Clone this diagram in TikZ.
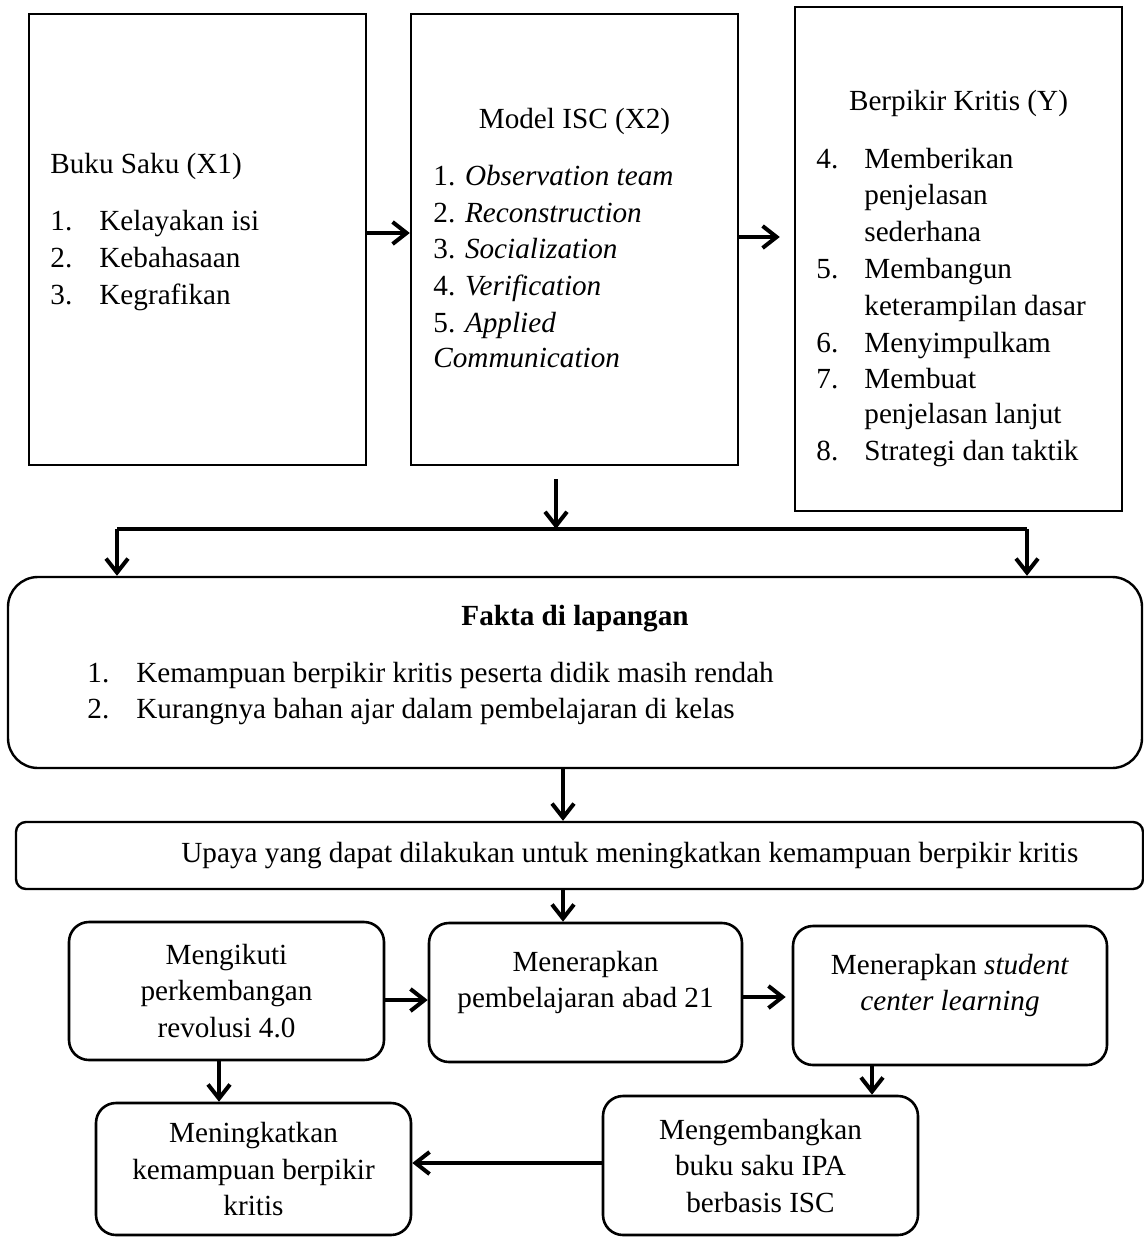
\documentclass[tikz,border=0pt]{standalone}
\usepackage{fontspec}
\setmainfont{Liberation Serif}
\usetikzlibrary{arrows.meta,calc}
\newcommand{\fs}{\fontsize{14.6}{18.25}\selectfont}
\tikzstyle{panel}=[draw,line width=1.2pt,inner sep=0pt]
\tikzstyle{roundbox}=[draw,line width=1.3pt,rounded corners=10pt,align=center,inner sep=0pt,font=\fs]
\tikzstyle{txt}=[anchor=base west,inner sep=0pt,font=\fs]
\tikzstyle{wire}=[draw,line width=2pt]
\tikzstyle{arr}=[draw,line width=2pt,-{Straight Barb[length=7pt,width=11pt]}]

\begin{document}
\begin{tikzpicture}[x=0.5pt,y=-0.5pt]
\useasboundingbox (0,0) rectangle (1144,1237);

    % variable boxes
    \node[panel,minimum width=168.5pt,minimum height=225.5pt] (bukusaku) at (197.5,239.5) {};
    \node[panel,minimum width=163.5pt,minimum height=225.5pt] (modelisc) at (574.5,239.5) {};
    \node[panel,minimum width=163.5pt,minimum height=252pt] (kritis) at (958.5,259) {};

    \node[txt] (bukusakuT) at (50,173) {Buku Saku (X1)};
    \foreach \n/\t/\y in {1/Kelayakan isi/230, 2/Kebahasaan/267, 3/Kegrafikan/304}
        \node[txt] (buku\n) at (50,\y) {\makebox[24.5pt][l]{\n.}\t};

    \node[txt,anchor=base] (modeliscT) at (574.5,128) {Model ISC (X2)};
    \foreach \n/\t/\y in {1/Observation team/185, 2/Reconstruction/222, 3/Socialization/258, 4/Verification/295, 5/Applied/332}
        \node[txt] (isc\n) at (433,\y) {\n. \textit{\t}};
    \node[txt] (isc6) at (433,367) {\textit{Communication}};

    \node[txt,anchor=base] (kritisT) at (958.5,110) {Berpikir Kritis (Y)};
    \foreach \i/\n/\t/\y in {1/4./Memberikan/168, 2//penjelasan/204, 3//sederhana/241, 4/5./Membangun/278, 5//keterampilan dasar/315, 6/6./Menyimpulkam/352, 7/7./Membuat/388, 8//penjelasan lanjut/423, 9/8./Strategi dan taktik/460}
        \node[txt] (kritis\i) at (816,\y) {\makebox[24pt][l]{\n}\t};

    \draw[arr] ([yshift=3.25pt]bukusaku.east) -- ([yshift=3.25pt]modelisc.west);
    \draw[arr,shorten >=7pt] ([yshift=1.25pt]modelisc.east) -- ([yshift=1.25pt]modelisc.east -| kritis.west);

    % facts
    \node[panel,rounded corners=15pt,minimum width=567pt,minimum height=95.5pt] (fakta) at (575,672.5) {};
    \node[txt,anchor=base,font=\fs\bfseries] (faktaT) at (575,625) {Fakta di lapangan};
    \foreach \n/\t/\y in {1/Kemampuan berpikir kritis peserta didik masih rendah/682, 2/Kurangnya bahan ajar dalam pembelajaran di kelas/718}
        \node[txt] (fakta\n) at (87,\y) {\makebox[24.5pt][l]{\n.}\t};

    \coordinate (split) at (556,529);
    \coordinate (forkL) at (117,529);
    \coordinate (forkR) at (1027,529);
    \draw[arr,shorten <=6.5pt] (modelisc.south -| split) -- (split);
    \draw[wire] (forkL) -- (forkR);
    \draw[arr] (forkL) -- (forkL |- fakta.north);
    \draw[arr] (forkR) -- (forkR |- fakta.north);

    % efforts
    \node[panel,rounded corners=5pt,minimum width=563.5pt,minimum height=33.5pt] (upaya) at (579.5,855.5) {};
    \node[txt] (upayaT) at (181,862) {Upaya yang dapat dilakukan untuk meningkatkan kemampuan berpikir kritis};

    \node[roundbox,minimum width=157.5pt,minimum height=69pt] (ikuti) at (226.5,991) {Mengikuti\\perkembangan\\revolusi 4.0};
    \node[roundbox,minimum width=156.5pt,minimum height=69.5pt] (abad) at (585.5,992.5) {Menerapkan\\pembelajaran abad 21\\[-5pt]\mbox{}};
    \node[roundbox,minimum width=157pt,minimum height=69.5pt] (scl) at (950,995.5) {Menerapkan \textit{student}\\\textit{center learning}\\[-5pt]\mbox{}};
    \node[roundbox,minimum width=157.5pt,minimum height=69.5pt] (kembang) at (760.5,1165.5) {Mengembangkan\\buku saku IPA\\berbasis ISC};
    \node[roundbox,minimum width=157.5pt,minimum height=66pt] (tingkat) at (253.5,1169) {Meningkatkan\\kemampuan berpikir\\kritis};

    \draw[arr] (fakta.south -| 563,0) -- (upaya.north -| 563,0);
    \draw[arr] (upaya.south -| 563,0) -- (abad.north -| 563,0);
    \draw[arr] ([yshift=-4.5pt]ikuti.east) -- ([yshift=-4.5pt]ikuti.east -| abad.west);
    \draw[arr,shorten >=3pt] ([yshift=-2.25pt]abad.east) -- ([yshift=-2.25pt]abad.east -| scl.west);
    \draw[arr] (scl.south -| 872,0) -- (kembang.north -| 872,0);
    \draw[arr] ([yshift=1.25pt]kembang.west) -- ([yshift=1.25pt]kembang.west -| tingkat.east);
    \draw[arr] (ikuti.south -| 219,0) -- (tingkat.north -| 219,0);

\end{tikzpicture}
\end{document}
